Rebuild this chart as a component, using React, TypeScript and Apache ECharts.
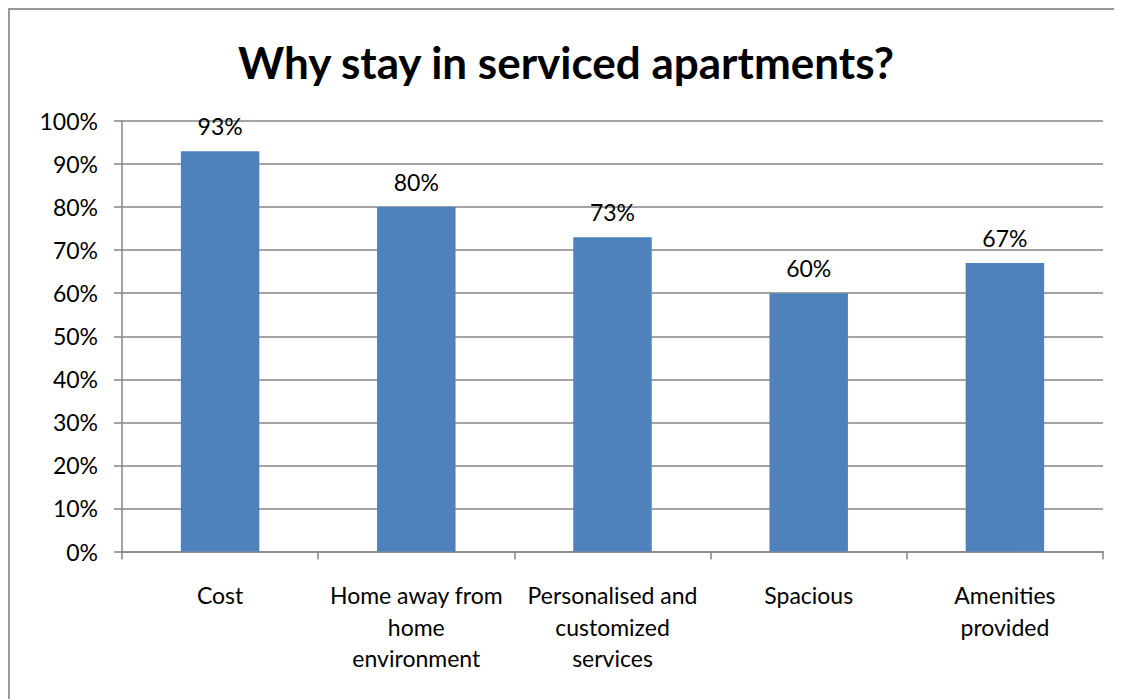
import React, { useEffect, useRef } from "react";
import * as echarts from "echarts";

const categories = [
  "Cost",
  "Home away from\nhome\nenvironment",
  "Personalised and\ncustomized\nservices",
  "Spacious",
  "Amenities\nprovided",
];
const values = [93, 80, 73, 60, 67];
const yTicks = [0, 10, 20, 30, 40, 50, 60, 70, 80, 90, 100];

const FONT = "Lato, 'Liberation Sans', sans-serif";

export default function App() {
  const ref = useRef<HTMLDivElement>(null);
  useEffect(() => {
    if (!ref.current) return;
    const chart = echarts.init(ref.current, undefined, { renderer: "svg" });
    chart.setOption({
      animation: false,
      backgroundColor: "#ffffff",
      title: {
        text: "Why stay in serviced apartments?",
        left: "center",
        top: 25,
        textStyle: { fontFamily: FONT, fontWeight: "bold", fontSize: 44, color: "#000" },
      },
      grid: { left: 112, right: 19, top: 111, bottom: 147.5, containLabel: false },
      xAxis: {
        type: "category",
        data: categories,
        axisLine: { lineStyle: { color: "#868686", width: 1.5 } },
        axisTick: { show: true, length: 8, lineStyle: { color: "#868686", width: 1.5 } },
        axisLabel: {
          interval: 0,
          margin: 28,
          fontFamily: FONT,
          fontSize: 23,
          lineHeight: 31.5,
          color: "#000",
          align: "center",
        },
      },
      yAxis: {
        type: "value",
        min: yTicks[0],
        max: yTicks[yTicks.length - 1],
        interval: 10,
        axisLine: { show: true, lineStyle: { color: "#868686", width: 1.5 } },
        axisTick: { show: true, length: 8, lineStyle: { color: "#868686", width: 1.5 } },
        splitLine: { show: true, lineStyle: { color: "#868686", width: 1.5 } },
        axisLabel: {
          margin: 24,
          fontFamily: FONT,
          fontSize: 23,
          color: "#000",
          formatter: (v: number) => v + "%",
        },
      },
      series: [
        {
          type: "bar",
          data: values,
          barWidth: "40%",
          itemStyle: { color: "#4F81BD" },
          label: {
            show: true,
            position: "top",
            distance: 14,
            fontFamily: FONT,
            fontSize: 23,
            color: "#000",
            formatter: (p: any) => p.value + "%",
          },
        },
      ],
    });
    return () => chart.dispose();
  }, []);
  return (
    <div
      style={{
        borderTop: "2px solid #999",
        borderLeft: "2px solid #999",
        width: 1112,
        height: 689,
        background: "#fff",
      }}
    >
      <div ref={ref} style={{ width: 1112, height: 689 }} />
    </div>
  );
}
